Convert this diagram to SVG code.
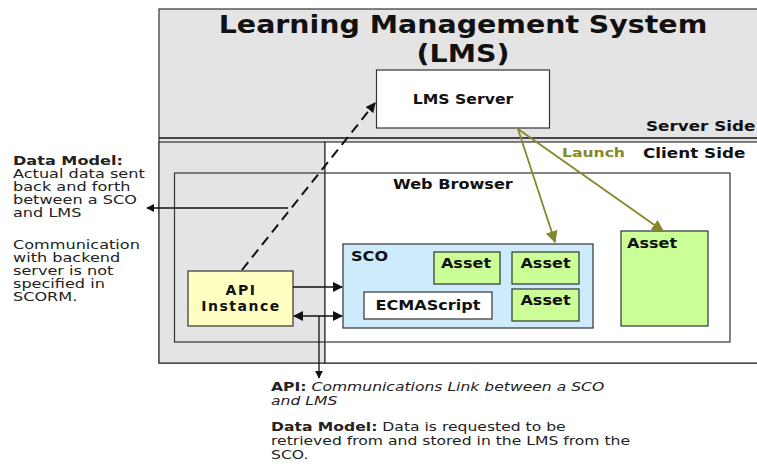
<svg xmlns="http://www.w3.org/2000/svg" width="757" height="464" viewBox="0 0 757 464">
<defs>
<style>
text{font-family:"DejaVu Sans","Liberation Sans",sans-serif;fill:#111}
.b{font-weight:bold}
.t{font-size:24px;font-weight:bold;text-anchor:middle}
.lbl{font-size:14px;font-weight:bold}
.m{text-anchor:middle}
.note{font-size:11.5px;fill:#222}
.note2{font-size:12px;fill:#222}
.box{stroke:#333;stroke-width:1.2}
.ln{stroke:#111;stroke-width:1.3;fill:none}
.olive{stroke:#86862a;stroke-width:1.8;fill:none}
</style>
<marker id="ah" viewBox="0 0 10 10" refX="9" refY="5" markerWidth="8" markerHeight="8" markerUnits="userSpaceOnUse" orient="auto-start-reverse"><path d="M0,0 L10,5 L0,10 z" fill="#111"/></marker>
<marker id="ahb" viewBox="0 0 10 10" refX="9" refY="5" markerWidth="10" markerHeight="10" markerUnits="userSpaceOnUse" orient="auto-start-reverse"><path d="M0,0 L10,5 L0,10 z" fill="#111"/></marker>
<marker id="ao" viewBox="0 0 10 10" refX="9" refY="5" markerWidth="12" markerHeight="12" markerUnits="userSpaceOnUse" orient="auto"><path d="M0,0 L10,5 L0,10 z" fill="#86862a"/></marker>
</defs>
<rect width="757" height="464" fill="#fff"/>
<g id="lms">
<rect x="159" y="9" width="610" height="354" fill="#e4e4e4" class="box"/>
<rect x="159" y="142" width="166" height="221" fill="#e4e4e4" class="box"/>
<rect x="325" y="142" width="444" height="221" fill="#fff" class="box"/>
<line x1="159" y1="138" x2="769" y2="138" class="ln"/>
<text class="t" transform="translate(463,33) scale(1.185,1)">Learning Management System</text>
<text class="t" transform="translate(463,62) scale(1.185,1)">(LMS)</text>
<text class="lbl" transform="translate(646,131) scale(1.2,1)">Server Side</text>
<text class="lbl" font-size="15" transform="translate(643,158) scale(1.2,1)">Client Side</text>
</g>
<g id="lms-server">
<rect x="376.5" y="70" width="173" height="58" fill="#fff" class="box"/>
<text class="lbl m" transform="translate(463,104) scale(1.12,1)">LMS Server</text>
</g>
<g id="web-browser">
<rect x="174.5" y="173" width="555.5" height="169" fill="none" class="box"/>
<text class="lbl" transform="translate(393,189) scale(1.15,1)">Web Browser</text>
</g>
<g id="sco">
<rect x="343" y="244" width="250" height="84" fill="#cdebfb" class="box"/>
<text class="lbl" transform="translate(351,261) scale(1.15,1)">SCO</text>
</g>
<g id="asset1">
<rect x="434" y="252" width="66" height="32" fill="#ccfe98" class="box"/>
<text class="lbl m" transform="translate(466,268) scale(1.15,1)">Asset</text>
</g>
<g id="asset2">
<rect x="512" y="252" width="67" height="32" fill="#ccfe98" class="box"/>
<text class="lbl m" transform="translate(545.5,268) scale(1.15,1)">Asset</text>
</g>
<g id="asset3">
<rect x="512" y="289" width="67" height="32" fill="#ccfe98" class="box"/>
<text class="lbl m" transform="translate(545.5,305) scale(1.15,1)">Asset</text>
</g>
<g id="ecmascript">
<rect x="364" y="292" width="128" height="27" fill="#fff" class="box"/>
<text class="lbl m" transform="translate(428,310) scale(1.15,1)">ECMAScript</text>
</g>
<g id="asset-big">
<rect x="621" y="231" width="87" height="95" fill="#ccfe98" class="box"/>
<text class="lbl" transform="translate(627,248) scale(1.15,1)">Asset</text>
</g>
<g id="api">
<rect x="188" y="271" width="105" height="55" fill="#ffffc2" class="box"/>
<text class="lbl m" font-size="12.5" letter-spacing="1.5" x="241" y="294.5">API</text>
<text class="lbl m" font-size="12.5" letter-spacing="1.5" x="241" y="311">Instance</text>
</g>
<g id="connectors">
<line x1="242" y1="270" x2="375" y2="103" stroke="#111" stroke-width="2" stroke-dasharray="10,6" marker-end="url(#ahb)"/>
<line x1="288" y1="208" x2="147" y2="208" class="ln" marker-end="url(#ah)"/>
<line x1="293" y1="287" x2="342" y2="287" class="ln" stroke-width="1.6" marker-end="url(#ahb)"/>
<line x1="294" y1="316" x2="342" y2="316" class="ln" stroke-width="1.6" marker-start="url(#ahb)" marker-end="url(#ahb)"/>
<line x1="319" y1="316" x2="319" y2="378" class="ln" marker-end="url(#ah)"/>
<line x1="518" y1="129" x2="555" y2="242" class="olive" marker-end="url(#ao)"/>
<line x1="518" y1="129" x2="663" y2="231" class="olive" marker-end="url(#ao)"/>
<text class="b" font-size="13" style="fill:#86862a" transform="translate(562,157) scale(1.2,1)">Launch</text>
</g>
<g id="notes">
<text class="note" transform="translate(13,0) scale(1.4,1)"><tspan x="0" y="165" class="b">Data Model:</tspan><tspan x="0" y="178">Actual data sent</tspan><tspan x="0" y="191">back and forth</tspan><tspan x="0" y="204">between a SCO</tspan><tspan x="0" y="217">and LMS</tspan><tspan x="0" y="249">Communication</tspan><tspan x="0" y="262">with backend</tspan><tspan x="0" y="275">server is not</tspan><tspan x="0" y="288">specified in</tspan><tspan x="0" y="301">SCORM.</tspan></text>
<text class="note2" transform="translate(271,0) scale(1.3,1)"><tspan x="0" y="391" class="b">API:</tspan><tspan font-style="italic"> Communications Link between a SCO</tspan><tspan x="0" y="405" font-style="italic">and LMS</tspan><tspan x="0" y="431" class="b">Data Model:</tspan><tspan>  Data is requested to be</tspan><tspan x="0" y="445">retrieved from and stored in the LMS from the</tspan><tspan x="0" y="459">SCO.</tspan></text>
</g>
</svg>
